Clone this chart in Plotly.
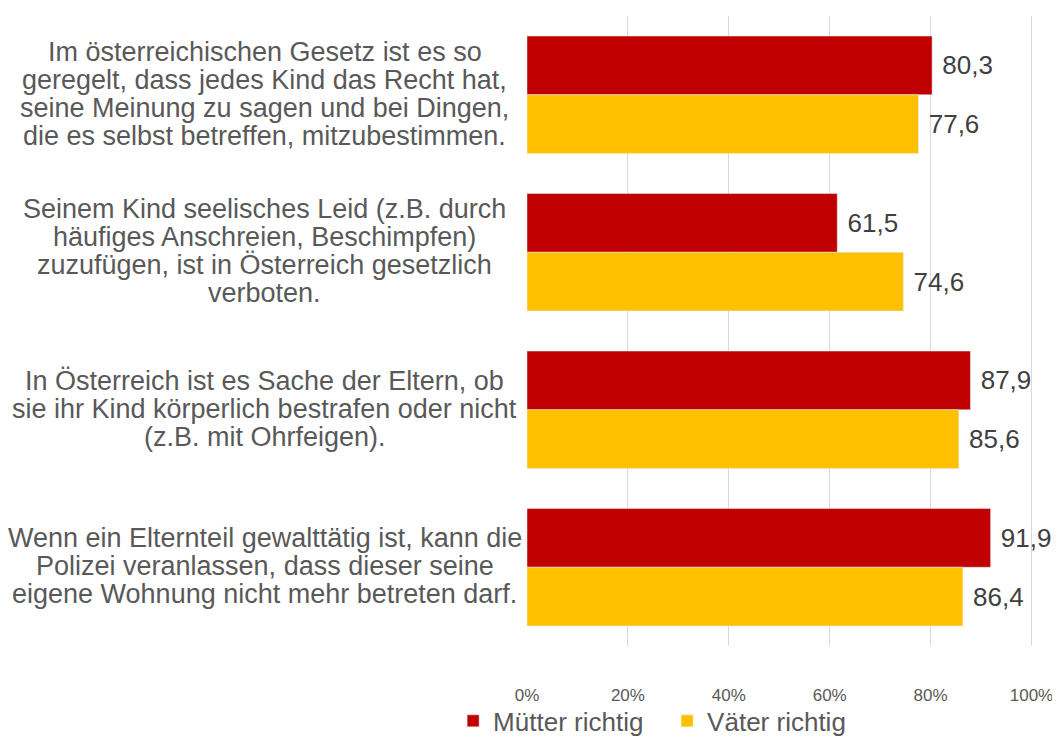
import plotly.graph_objects as go

categories = [
    ["Im österreichischen Gesetz ist es so",
     "geregelt, dass jedes Kind das Recht hat,",
     "seine Meinung zu sagen und bei Dingen,",
     "die es selbst betreffen, mitzubestimmen."],
    ["Seinem Kind seelisches Leid (z.B. durch",
     "häufiges Anschreien, Beschimpfen)",
     "zuzufügen, ist in Österreich gesetzlich",
     "verboten."],
    ["In Österreich ist es Sache der Eltern, ob",
     "sie ihr Kind körperlich bestrafen oder nicht",
     "(z.B. mit Ohrfeigen)."],
    ["Wenn ein Elternteil gewalttätig ist, kann die",
     "Polizei veranlassen, dass dieser seine",
     "eigene Wohnung nicht mehr betreten darf."],
]
cat_ids = ["c1", "c2", "c3", "c4"]
muetter = [80.3, 61.5, 87.9, 91.9]
vaeter = [77.6, 74.6, 85.6, 86.4]
tick_vals = [0, 20, 40, 60, 80, 100]
tick_text = ["0%", "20%", "40%", "60%", "80%", "100%"]

FONT = "Liberation Sans, Arial"
LINE_H = 28

def fmt(v):
    return " " + f"{v:.1f}".replace(".", ",")

fig = go.Figure()
fig.add_trace(go.Bar(
    name="Mütter richtig", y=cat_ids, x=muetter, orientation="h",
    marker=dict(color="#C00000"),
    text=[fmt(v) for v in muetter], textposition="outside",
    textfont=dict(size=26, color="#404040", family=FONT),
    cliponaxis=False,
))
fig.add_trace(go.Bar(
    name="Väter richtig", y=cat_ids, x=vaeter, orientation="h",
    marker=dict(color="#FFC000"),
    text=[fmt(v) for v in vaeter], textposition="outside",
    textfont=dict(size=26, color="#404040", family=FONT),
    cliponaxis=False,
))

for cid, lines in zip(cat_ids, categories):
    n = len(lines)
    for i, line in enumerate(lines):
        fig.add_annotation(
            x=-0.518, xref="paper", y=cid, yref="y",
            text=line, showarrow=False, xanchor="center", yanchor="middle",
            align="center", yshift=((n - 1) / 2 - i) * LINE_H + 1,
            font=dict(size=27, color="#595959", family=FONT),
        )

fig.update_layout(
    width=1052, height=732,
    margin=dict(l=519, r=27, t=8, b=94, autoexpand=False),
    paper_bgcolor="white", plot_bgcolor="white",
    barmode="group", bargap=0.255, bargroupgap=0,
    font=dict(family=FONT, color="#595959"),
    xaxis=dict(
        range=[0, 100.3], tickvals=tick_vals, ticktext=tick_text,
        showgrid=True, gridcolor="#D9D9D9", gridwidth=1,
        zeroline=False, showline=False, automargin=False,
        tickfont=dict(size=17, color="#595959"),
        ticks="", ticklabelstandoff=37, ticklabeloverflow="allow",
    ),
    yaxis=dict(
        categoryorder="array", categoryarray=cat_ids,
        autorange="reversed", showticklabels=False, automargin=False,
        showgrid=False, zeroline=False, showline=False,
    ),
    legend=dict(
        orientation="h", x=-0.146, xanchor="left", y=-0.119, yanchor="middle",
        font=dict(size=26, color="#595959", family=FONT), traceorder="normal",
        itemwidth=30, entrywidth=169, entrywidthmode="pixels",
        bgcolor="rgba(0,0,0,0)",
    ),
    showlegend=True,
)

fig.write_html("out.html")
